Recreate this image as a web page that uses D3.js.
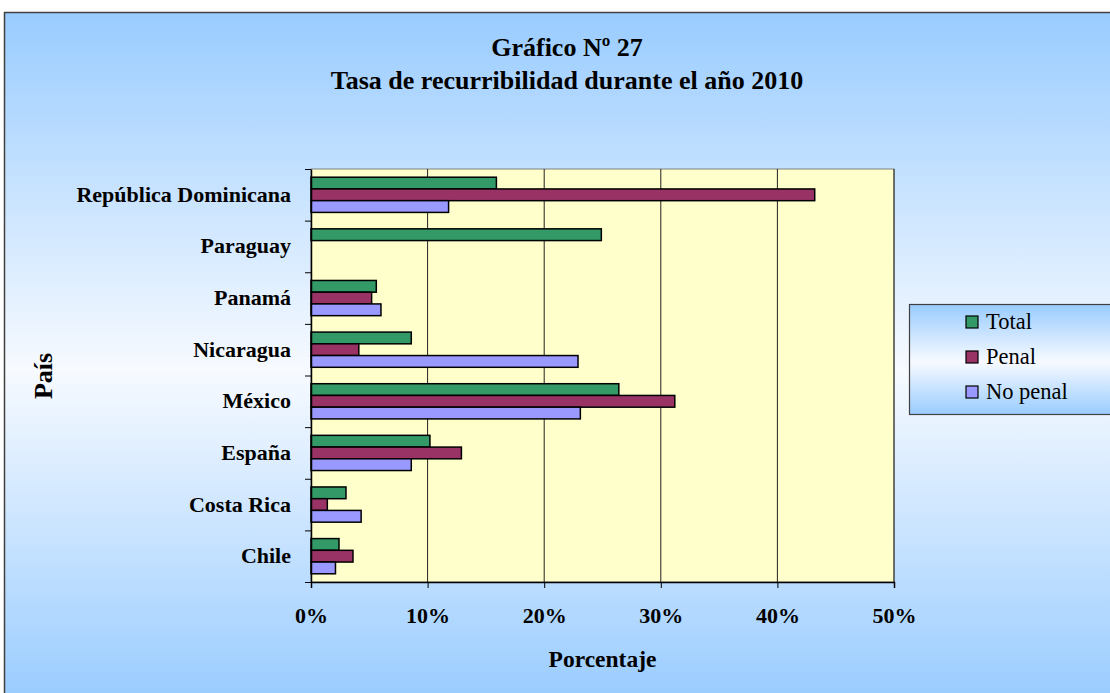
<!DOCTYPE html>
<html>
<head>
<meta charset="utf-8">
<script src="https://cdn.jsdelivr.net/npm/d3@7"></script>
<style>
  body { margin: 0; background: #fff; }
  svg { display: block; font-family: "Times New Roman", "Liberation Serif", serif; }
</style>
</head>
<body>
<div id="chart"></div>
<script>
// data, top to bottom as in the picture
const countries = ["República Dominicana", "Paraguay", "Panamá", "Nicaragua", "México", "España", "Costa Rica", "Chile"];
const seriesNames = ["Total", "Penal", "No penal"];
const totalValues = [15.9, 24.9, 5.6, 8.6, 26.4, 10.2, 3.0, 2.4];
const penalValues = [43.2, null, 5.2, 4.1, 31.2, 12.9, 1.4, 3.6];
const noPenalValues = [11.8, null, 6.0, 22.9, 23.1, 8.6, 4.3, 2.1];
const xTicks = [0, 10, 20, 30, 40, 50];

const colors = ["#339966", "#993366", "#9999ff"];
const width = 1110;
const height = 693;
const margin = ({top: 169, right: 216, bottom: 111, left: 311});

const rows = countries.map((c, i) => ({
  country: c,
  values: [totalValues[i], penalValues[i], noPenalValues[i]]
}));

const svg = d3.select("#chart").append("svg")
  .attr("width", width)
  .attr("height", height);

const defs = svg.append("defs");
function blueGradient(id) {
  const g = defs.append("linearGradient")
    .attr("id", id).attr("x1", 0).attr("y1", 0).attr("x2", 0).attr("y2", 1);
  g.append("stop").attr("offset", "0%").attr("stop-color", "#99ccff");
  g.append("stop").attr("offset", "52%").attr("stop-color", "#f7faff");
  g.append("stop").attr("offset", "100%").attr("stop-color", "#99ccff");
}
blueGradient("bg");
blueGradient("lg");

// chart frame
svg.append("rect")
  .attr("x", 4.5).attr("y", 12.5)
  .attr("width", 1130).attr("height", 688)
  .attr("fill", "url(#bg)")
  .attr("stroke", "#404040")
  .attr("stroke-width", 1.5);

const x = d3.scaleLinear()
  .domain([0, 50])
  .range([margin.left, 894]);

const y = d3.scaleBand()
  .domain(countries)
  .range([margin.top, height - margin.bottom])
  .paddingInner(0)
  .paddingOuter(0);

const ySub = d3.scaleBand()
  .domain(seriesNames)
  .range([0, y.bandwidth()])
  .paddingInner(0)
  .paddingOuter(0.7);

const yTicks = d3.scaleLinear()
  .domain([0, countries.length])
  .range([margin.top, height - margin.bottom]);

// plot area
svg.append("rect")
  .attr("x", x(0)).attr("y", y.range()[0])
  .attr("width", x(50) - x(0))
  .attr("height", y.range()[1] - y.range()[0])
  .attr("fill", "#ffffcc")
  .attr("stroke", "#808080")
  .attr("stroke-width", 1);

// grid
svg.append("g")
  .selectAll("line")
  .data(xTicks.slice(1))
  .join("line")
    .attr("x1", d => x(d)).attr("x2", d => x(d))
    .attr("y1", y.range()[0]).attr("y2", y.range()[1])
    .attr("stroke", "#222")
    .attr("stroke-width", 1);

// bars
svg.append("g")
  .selectAll("g")
  .data(rows)
  .join("g")
    .attr("transform", d => `translate(0,${y(d.country)})`)
  .selectAll("rect")
  .data(d => d.values.map((v, i) => ({name: seriesNames[i], value: v, i})).filter(d => d.value != null))
  .join("rect")
    .attr("x", x(0))
    .attr("y", d => ySub(d.name))
    .attr("width", d => x(d.value) - x(0))
    .attr("height", ySub.bandwidth())
    .attr("fill", d => colors[d.i])
    .attr("stroke", "#000")
    .attr("stroke-width", 1.5);

// x axis
const xAxis = svg.append("g")
  .attr("transform", `translate(0,${y.range()[1]})`)
  .call(d3.axisBottom(x).tickValues(xTicks).tickFormat(d => d + "%").tickSize(6).tickPadding(19));
xAxis.select(".domain").attr("stroke", "#000").attr("stroke-width", 1.5);
xAxis.selectAll(".tick line").attr("stroke", "#000");
xAxis.selectAll("text")
  .attr("font-family", "Times New Roman, Liberation Serif, serif")
  .attr("font-size", 22).attr("font-weight", "bold").attr("fill", "#000");

// y axis: tick marks at category boundaries
const yTickAxis = svg.append("g")
  .attr("transform", `translate(${x(0)},0)`)
  .call(d3.axisLeft(yTicks).ticks(countries.length).tickFormat("").tickSize(6).tickSizeOuter(0));
yTickAxis.select(".domain").attr("stroke", "#000").attr("stroke-width", 1.5);
yTickAxis.selectAll(".tick line").attr("stroke", "#000");

// y axis labels
const yAxis = svg.append("g")
  .attr("transform", `translate(${x(0)},0)`)
  .call(d3.axisLeft(y).tickSize(0).tickPadding(20));
yAxis.select(".domain").remove();
yAxis.selectAll("text")
  .attr("font-family", "Times New Roman, Liberation Serif, serif")
  .attr("font-size", 22).attr("font-weight", "bold").attr("fill", "#000");

// titles
const title = svg.append("text")
  .attr("text-anchor", "middle")
  .attr("font-size", 26).attr("font-weight", "bold");
title.append("tspan").attr("x", 567).attr("y", 56).text("Gráfico Nº 27");
title.append("tspan").attr("x", 567).attr("y", 89).text("Tasa de recurribilidad durante el año 2010");

svg.append("text")
  .attr("x", (x(0) + x(50)) / 2).attr("y", 667)
  .attr("text-anchor", "middle")
  .attr("font-size", 23.5).attr("font-weight", "bold")
  .text("Porcentaje");

svg.append("text")
  .attr("transform", `translate(52,376) rotate(-90)`)
  .attr("text-anchor", "middle")
  .attr("font-size", 26).attr("font-weight", "bold")
  .text("País");

// legend
const legend = svg.append("g").attr("transform", "translate(909,304)");
legend.append("rect")
  .attr("x", 0.5).attr("y", 0.5)
  .attr("width", 220).attr("height", 110)
  .attr("fill", "url(#lg)")
  .attr("stroke", "#404040")
  .attr("stroke-width", 1.2);

const item = legend.selectAll("g.item")
  .data(seriesNames)
  .join("g")
    .attr("class", "item")
    .attr("transform", (d, i) => `translate(57,${18 + i * 35})`);
item.append("rect")
  .attr("x", 0).attr("y", -6)
  .attr("width", 12).attr("height", 12)
  .attr("fill", (d, i) => colors[i])
  .attr("stroke", "#000")
  .attr("stroke-width", 1.2);
item.append("text")
  .attr("x", 20).attr("y", 7)
  .attr("font-size", 22.5)
  .text(d => d);
</script>
</body>
</html>
